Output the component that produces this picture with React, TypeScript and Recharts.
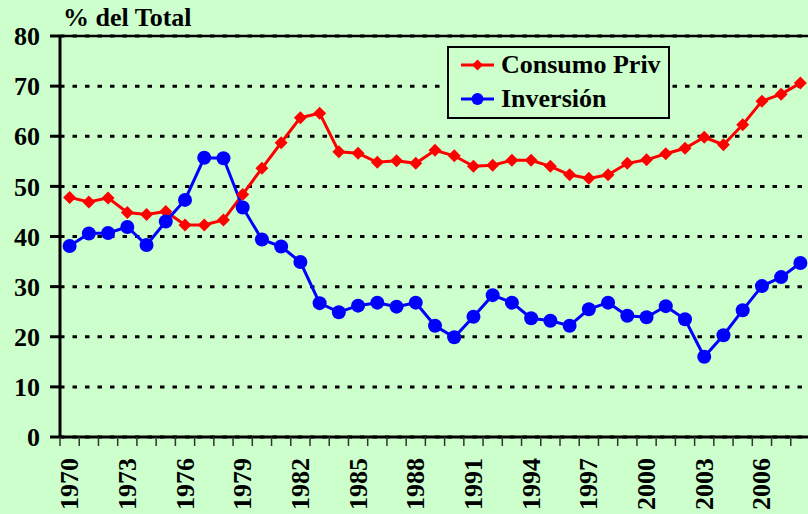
import React from "react";
import {
  LineChart,
  Line,
  XAxis,
  YAxis,
  CartesianGrid,
  ReferenceLine,
  Legend,
} from "recharts";

// años 1970-2008
const years = [
  "1970", "1971", "1972", "1973", "1974", "1975", "1976", "1977", "1978", "1979",
  "1980", "1981", "1982", "1983", "1984", "1985", "1986", "1987", "1988", "1989",
  "1990", "1991", "1992", "1993", "1994", "1995", "1996", "1997", "1998", "1999",
  "2000", "2001", "2002", "2003", "2004", "2005", "2006", "2007", "2008",
];

const consumoPriv = [
  47.8, 46.9, 47.7, 44.8, 44.4, 45.0, 42.3, 42.3, 43.3, 48.4,
  53.6, 58.7, 63.7, 64.6, 56.9, 56.6, 54.8, 55.1, 54.6, 57.2,
  56.1, 54.0, 54.2, 55.2, 55.2, 54.0, 52.3, 51.6, 52.3, 54.6,
  55.3, 56.5, 57.6, 59.8, 58.3, 62.3, 67.0, 68.4, 70.6,
];

const inversion = [
  38.1, 40.6, 40.7, 41.9, 38.3, 43.0, 47.3, 55.7, 55.6, 45.8,
  39.4, 38.0, 34.9, 26.7, 24.9, 26.2, 26.8, 26.0, 26.8, 22.2,
  19.9, 24.0, 28.3, 26.8, 23.7, 23.2, 22.2, 25.5, 26.8, 24.2,
  23.9, 26.1, 23.5, 16.0, 20.3, 25.3, 30.1, 31.9, 34.7,
];

const yTicks = [0, 10, 20, 30, 40, 50, 60, 70, 80];
const LABEL_EVERY = 3;

const BG = "#CCFFCC";
const RED = "#FF0000";
const BLUE = "#0000FF";
const FONT = '"Liberation Serif", "Times New Roman", serif';
const TICK_SIZE = 9;
const TICK_MARGIN = 12;

const data = years.map((year, i) => ({
  year,
  consumo: consumoPriv[i],
  inversion: inversion[i],
}));

function YearTick(props: any) {
  const { x, y, index, payload } = props;
  const half = payload?.offset ?? 0;
  const top = y - TICK_SIZE - TICK_MARGIN;
  return (
    <g>
      <line
        x1={x - half}
        x2={x - half}
        y1={top}
        y2={top + TICK_SIZE}
        stroke="#333"
        strokeWidth={1.5}
      />
      {index % LABEL_EVERY === 0 && (
        <text
          transform={`translate(${x},${y}) rotate(-90)`}
          textAnchor="end"
          dominantBaseline="central"
          fontFamily={FONT}
          fontSize={26}
          fontWeight="bold"
          fill="#000"
        >
          {payload.value}
        </text>
      )}
    </g>
  );
}

function Diamond(props: any) {
  const { cx, cy, index } = props;
  if (cx == null || cy == null) return <g key={`d-${index}`} />;
  const s = 6.5;
  return (
    <polygon
      key={`d-${index}`}
      points={`${cx},${cy - s} ${cx + s},${cy} ${cx},${cy + s} ${cx - s},${cy}`}
      fill={RED}
    />
  );
}

function LegendBox({ payload }: any) {
  return (
    <div
      style={{
        width: 223,
        boxSizing: "border-box",
        border: "2px solid #000",
        background: BG,
        padding: "0 0 1px 12px",
        fontFamily: FONT,
        fontSize: 26,
        fontWeight: "bold",
        color: "#000",
      }}
    >
      {(payload || []).map((entry: any) => (
        <div
          key={entry.value}
          style={{ display: "flex", alignItems: "center", height: 34 }}
        >
          <svg width={33} height={16} style={{ marginRight: 7 }}>
            <line x1={0} x2={33} y1={8} y2={8} stroke={entry.color} strokeWidth={3} />
            {entry.dataKey === "consumo" ? (
              <polygon points="16.5,2.5 22,8 16.5,13.5 11,8" fill={entry.color} />
            ) : (
              <circle cx={16.5} cy={8} r={6} fill={entry.color} />
            )}
          </svg>
          <span style={{ lineHeight: "26px" }}>{entry.value}</span>
        </div>
      ))}
    </div>
  );
}

export default function App() {
  return (
    <div
      style={{
        position: "relative",
        width: 808,
        height: 514,
        overflow: "hidden",
        background: BG,
        fontFamily: FONT,
      }}
    >
      <style>{`body{margin:0}`}</style>
      <LineChart
        width={830}
        height={514}
        data={data}
        margin={{ top: 36, right: 20, left: 0, bottom: 0 }}
      >
        <CartesianGrid
          vertical={false}
          stroke="#000"
          strokeWidth={3}
          strokeDasharray="4.5 8"
        />
        <ReferenceLine y={80} stroke="#000" strokeWidth={2.5} />
        <XAxis
          dataKey="year"
          scale="band"
          interval={0}
          height={77}
          tickSize={TICK_SIZE}
          tickMargin={TICK_MARGIN}
          tickLine={false}
          axisLine={{ stroke: "#000", strokeWidth: 3 }}
          tick={<YearTick />}
        />
        <YAxis
          domain={[0, 80]}
          ticks={yTicks}
          width={60}
          tickSize={10}
          tickMargin={10}
          axisLine={{ stroke: "#000", strokeWidth: 3 }}
          tickLine={{ stroke: "#000", strokeWidth: 3 }}
          tick={{ fill: "#000", fontSize: 26, fontWeight: "bold", fontFamily: FONT }}
        />
        <Legend
          layout="vertical"
          align="center"
          verticalAlign="middle"
          wrapperStyle={{ left: 447, top: 46 }}
          content={<LegendBox />}
        />
        <Line
          type="linear"
          dataKey="consumo"
          name="Consumo Priv"
          stroke={RED}
          strokeWidth={3}
          dot={Diamond}
          activeDot={false}
          isAnimationActive={false}
        />
        <Line
          type="linear"
          dataKey="inversion"
          name="Inversión"
          stroke={BLUE}
          strokeWidth={3}
          dot={{ r: 7, fill: BLUE, stroke: BLUE, strokeWidth: 0 }}
          activeDot={false}
          isAnimationActive={false}
        />
      </LineChart>
      <div
        style={{
          position: "absolute",
          left: 63,
          top: 5,
          fontSize: 26,
          lineHeight: "26px",
          fontWeight: "bold",
          color: "#000",
        }}
      >
        % del Total
      </div>
    </div>
  );
}
